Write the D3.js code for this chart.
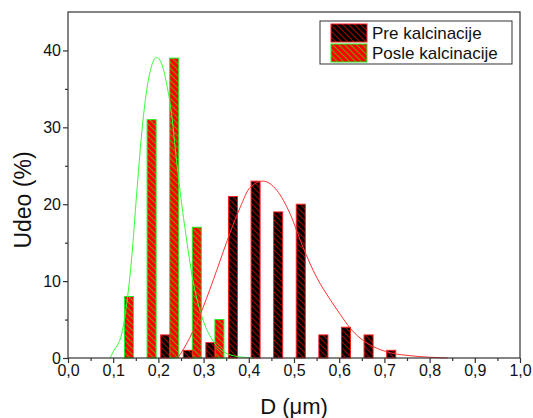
<!DOCTYPE html>
<html>
<head>
<meta charset="utf-8">
<script src="https://cdn.jsdelivr.net/npm/d3@7"></script>
<style>
  body { margin: 0; background: #fff; }
  text { font-family: "Liberation Sans", Arial, sans-serif; }
</style>
</head>
<body>
<svg id="chart" width="533" height="418"></svg>
<script>
// ---- data ----
const preD      = [0.215, 0.265, 0.315, 0.365, 0.415, 0.465, 0.515, 0.565, 0.615, 0.665, 0.715];
const preVals   = [3, 1, 2, 21, 23, 19, 20, 3, 4, 3, 1];
const posleD    = [0.135, 0.185, 0.235, 0.285, 0.335];
const posleVals = [8, 31, 39, 17, 5];
// fitted curves
const posleFitX = [0.093, 0.100, 0.119, 0.130, 0.141, 0.152, 0.163, 0.174, 0.185, 0.196, 0.207, 0.218, 0.229, 0.240, 0.252, 0.259, 0.277, 0.299, 0.322, 0.351, 0.380, 0.410];
const posleFitY = [0.0, 0.8, 3.2, 7.1, 13.1, 21.4, 29.2, 34.8, 38.0, 39.1, 38.3, 35.7, 31.8, 25.7, 19.8, 16.8, 9.9, 4.9, 2.1, 0.6, 0.15, 0.0];
const preFitX = [0.243, 0.270, 0.299, 0.329, 0.358, 0.381, 0.403, 0.432, 0.462, 0.491, 0.520, 0.550, 0.580, 0.602, 0.624, 0.646, 0.675, 0.712, 0.757, 0.800, 0.840];
const preFitY = [0.0, 2.7, 6.6, 11.4, 16.2, 19.6, 22.2, 23.0, 21.8, 18.8, 14.4, 10.5, 7.6, 5.7, 3.9, 2.6, 1.5, 0.7, 0.3, 0.1, 0.0];
const xTicks = [0, 0.1, 0.2, 0.3, 0.4, 0.5, 0.6, 0.7, 0.8, 0.9, 1.0];
const yTicks = [0, 10, 20, 30, 40];
const seriesNames = ["Pre kalcinacije", "Posle kalcinacije"];

// ---- layout ----
const svg = d3.select("#chart");
const L = 68, R = 520, T = 12, B = 358;
const x = d3.scaleLinear().domain([0, 1]).range([L, R]);
const y = d3.scaleLinear().domain([0, 45]).range([B, T]);
const barW = x(0.02) - x(0);

// patterns
const defs = svg.append("defs");
function hatch(id, bg, fg) {
  const p = defs.append("pattern").attr("id", id).attr("patternUnits", "userSpaceOnUse")
    .attr("width", 6).attr("height", 6);
  p.append("rect").attr("width", 6).attr("height", 6).attr("fill", bg);
  p.append("path").attr("d", "M-1,-1 L7,7 M-1,5 L1,7 M5,-1 L7,1")
    .attr("stroke", fg).attr("stroke-width", 1.1);
}
hatch("hPre", "#000000", "#a00000");
hatch("hPosle", "#ff0000", "#7a9a00");

// bars
const g = svg.append("g");
g.selectAll("rect.posle").data(posleD).join("rect").attr("class", "posle")
  .attr("x", (d) => x(d) - barW / 2)
  .attr("y", (d, i) => y(posleVals[i]))
  .attr("width", barW)
  .attr("height", (d, i) => y(0) - y(posleVals[i]))
  .attr("fill", "url(#hPosle)").attr("stroke", "#22ee22").attr("stroke-width", 1);
g.selectAll("rect.pre").data(preD).join("rect").attr("class", "pre")
  .attr("x", (d) => x(d) - barW / 2)
  .attr("y", (d, i) => y(preVals[i]))
  .attr("width", barW)
  .attr("height", (d, i) => y(0) - y(preVals[i]))
  .attr("fill", "url(#hPre)").attr("stroke", "#ff2020").attr("stroke-width", 1);

// curves
const line = d3.line().x((d) => x(d[0])).y((d) => y(d[1])).curve(d3.curveMonotoneX);
svg.append("path").datum(posleFitX.map((v, i) => [v, posleFitY[i]]))
  .attr("d", line).attr("fill", "none").attr("stroke", "#33ff33").attr("stroke-width", 1);
svg.append("path").datum(preFitX.map((v, i) => [v, preFitY[i]]))
  .attr("d", line).attr("fill", "none").attr("stroke", "#ff3333").attr("stroke-width", 1);

// frame
svg.append("rect").attr("x", L).attr("y", T).attr("width", R - L).attr("height", B - T)
  .attr("fill", "none").attr("stroke", "#333").attr("stroke-width", 1.2);

// axes
const fmtX = (d) => d3.format(".1f")(d).replace(".", ",");
const xAxis = d3.axisBottom(x).tickValues(xTicks).tickFormat(fmtX).tickSize(5).tickPadding(2);
svg.append("g").attr("transform", `translate(0,${B})`).call(xAxis);
const xMinor = d3.axisBottom(x).tickValues(d3.range(0.05, 1, 0.1)).tickFormat("").tickSize(3);
svg.append("g").attr("transform", `translate(0,${B})`).call(xMinor);
const yAxis = d3.axisLeft(y).tickValues(yTicks).tickSize(5).tickPadding(2);
svg.append("g").attr("transform", `translate(${L},0)`).call(yAxis);
const yMinor = d3.axisLeft(y).tickValues([5, 15, 25, 35]).tickFormat("").tickSize(3);
svg.append("g").attr("transform", `translate(${L},0)`).call(yMinor);
svg.selectAll(".domain").remove();
svg.selectAll(".tick line").attr("stroke", "#333").attr("stroke-width", 1.2);
svg.selectAll(".tick text").attr("font-size", 16).attr("fill", "#111")
  .attr("font-family", "Liberation Sans, Arial, sans-serif");

// axis titles
svg.append("text").attr("x", (L + R) / 2).attr("y", 414).attr("text-anchor", "middle")
  .attr("font-size", 22).attr("fill", "#111").text("D (μm)");
svg.append("text").attr("transform", `translate(31,200) rotate(-90)`)
  .attr("text-anchor", "middle").attr("font-size", 23).attr("fill", "#111").text("Udeo (%)");

// legend
const lg = svg.append("g");
lg.append("rect").attr("x", 320).attr("y", 21).attr("width", 192).attr("height", 43)
  .attr("fill", "#fff").attr("stroke", "#333").attr("stroke-width", 1);
const legFills = ["url(#hPre)", "url(#hPosle)"];
const legStrokes = ["#ff2020", "#22ee22"];
seriesNames.forEach((name, i) => {
  lg.append("rect").attr("x", 331).attr("y", 24 + i * 20).attr("width", 36).attr("height", 18)
    .attr("fill", legFills[i]).attr("stroke", legStrokes[i]).attr("stroke-width", 1);
  lg.append("text").attr("x", 372).attr("y", 39 + i * 20).attr("font-size", 17).attr("fill", "#111").text(name);
});
</script>
</body>
</html>
